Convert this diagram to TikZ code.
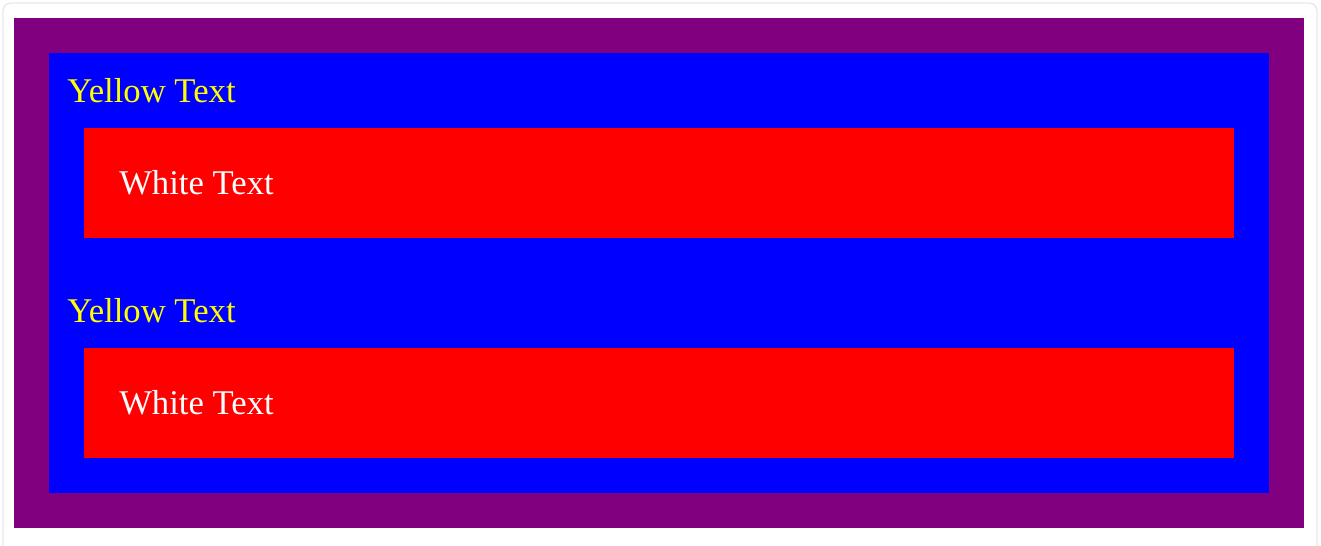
\documentclass[tikz,border=0pt]{standalone}
\usepackage{fontspec}
\setmainfont{Liberation Serif}
\definecolor{cpurple}{RGB}{128,0,128}
\definecolor{cblue}{RGB}{0,0,255}
\definecolor{cred}{RGB}{255,0,0}
\definecolor{cyellow}{RGB}{255,255,0}
\definecolor{ccard}{RGB}{232,232,232}
\tikzset{pxgrid/.style={x=0.75pt,y=-0.75pt},
  label text/.style={anchor=base west,inner sep=0pt,font=\fontsize{26}{30}\selectfont}}

\begin{document}
\begin{tikzpicture}[pxgrid]
    \clip (0,0) rectangle (1321,546);
    \useasboundingbox (0,0) rectangle (1321,546);
    \fill[white] (0,0) rectangle (1321,546);
    \draw[ccard,line width=1pt,rounded corners=6] (3,3) rectangle (1317,570);   % card
    \fill[cpurple] (14,18) rectangle (1304,528);
    \fill[cblue]   (49,53) rectangle (1269,493);
    \foreach \i/\dy in {1/0,2/220} {
      \fill[cred] (84,128+\dy) rectangle (1234,238+\dy);
      \node[label text,cyellow] (yellow\i) at (67,102+\dy) {Yellow Text};
      \node[label text,white]   (white\i)  at (119,194+\dy) {White Text};
    }
  \end{tikzpicture}
\end{document}
